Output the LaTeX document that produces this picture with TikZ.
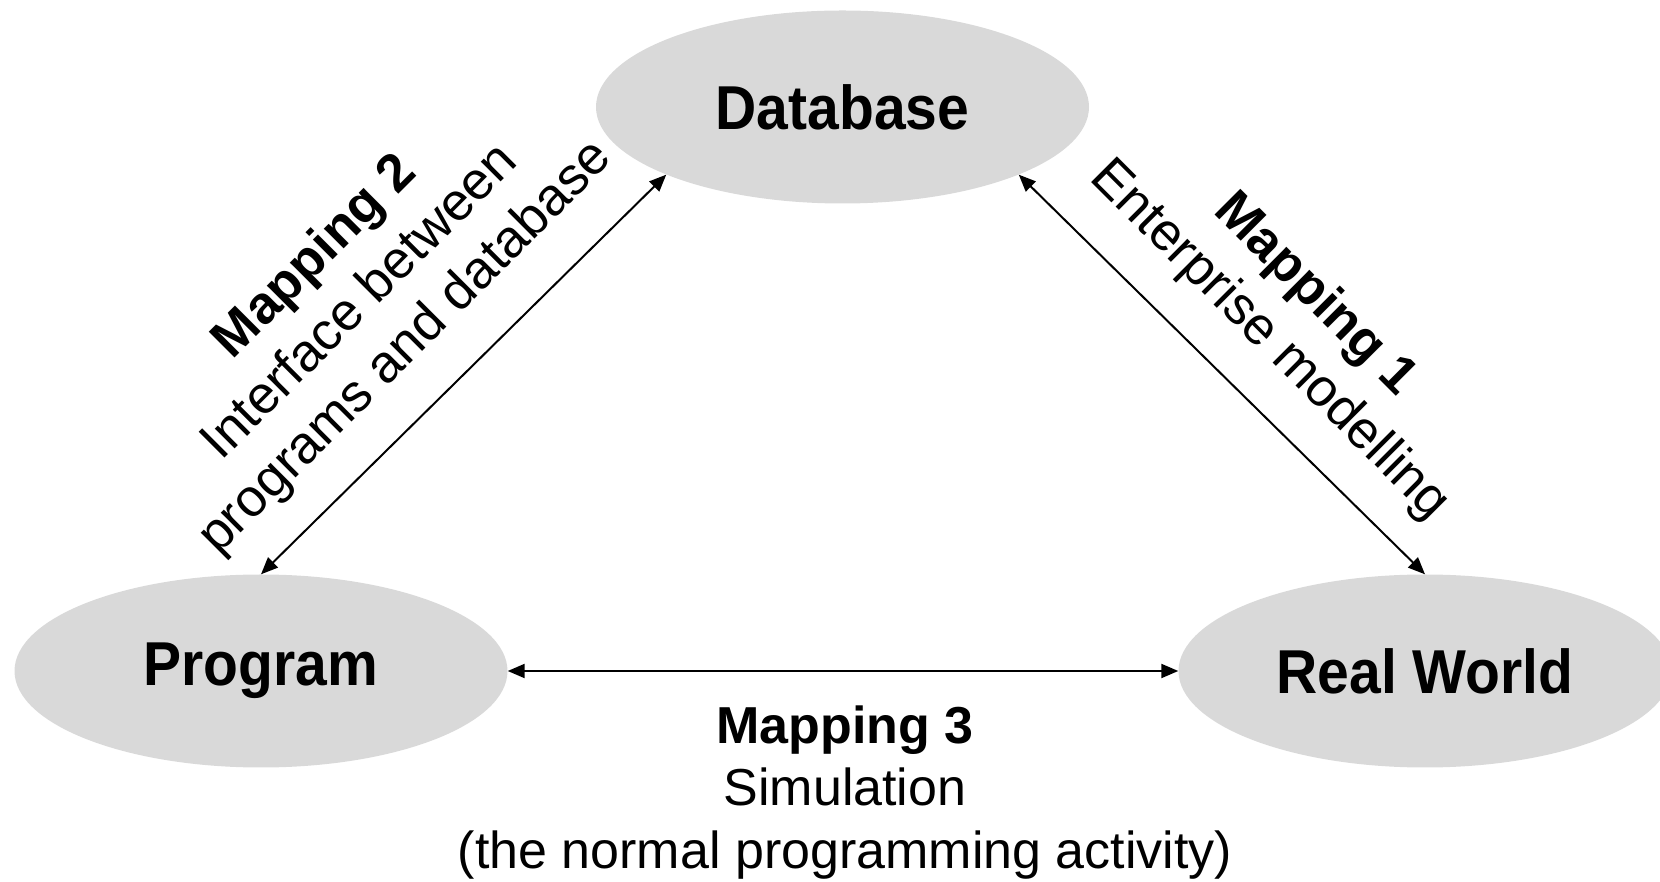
\documentclass[tikz,border=0pt]{standalone}
\usepackage{fontspec}
\setmainfont{Liberation Sans}
\usetikzlibrary{arrows.meta,shapes.geometric}
\definecolor{ellgray}{RGB}{217,217,217}
\newcommand\nodelabel[1]{\scalebox{0.92}[1]{\fontsize{62}{70}\selectfont\bfseries #1}}
\begin{document}
\begin{tikzpicture}[x=1pt,y=1pt,
  blob/.style={ellipse, fill=ellgray, minimum width=493pt, minimum height=193pt, inner sep=0pt},
  lbl/.style={align=center, inner sep=0pt, font=\fontsize{53}{64}\selectfont},
  botlbl/.style={align=center, inner sep=0pt, font=\fontsize{52}{62.5}\selectfont},
  link/.style={line width=2pt, {Triangle[length=17pt,width=14pt]}-{Triangle[length=17pt,width=14pt]}}
]
\useasboundingbox (0,0) rectangle (1660,881);
\node[blob] (db) at (842.5,774) {\nodelabel{Database}};
\node[blob] (prog) at (261,210) {\nodelabel{Program}};
\node[blob] (rw) at (1425,210) {\nodelabel{Real World}};

\draw[link] (prog.north) -- (db.201);
\draw[link] (db.339) -- (rw.north);
\draw[link] (prog.east) -- (rw.west);

\node[lbl, rotate=45] (m2) at (361,578) {\textbf{Mapping 2}\\Interface between\\programs and database};
\node[lbl, rotate=-45] (m1) at (1292,563) {\textbf{Mapping 1}\\Enterprise modelling};
\node[botlbl] (m3) at (845,88.5) {\textbf{Mapping 3}\\Simulation\\(the normal programming activity)};
\end{tikzpicture}
\end{document}
